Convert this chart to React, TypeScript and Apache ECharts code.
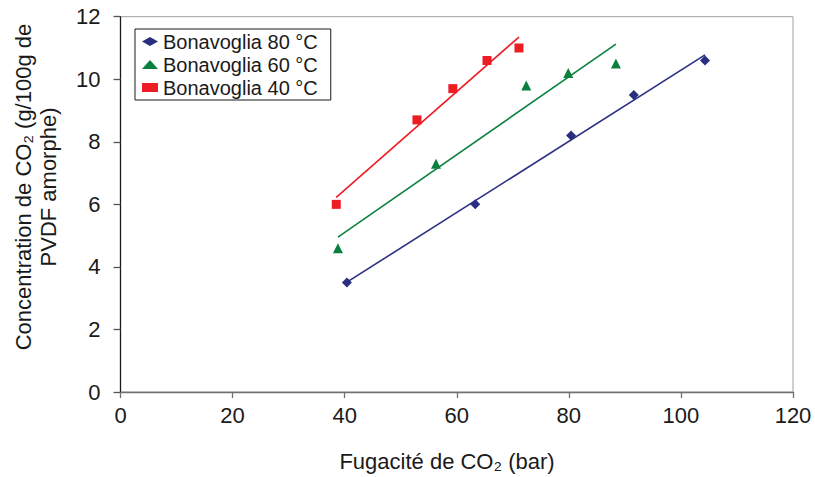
import React, { useEffect, useRef } from "react";
import * as echarts from "echarts";

const seriesNames = ["Bonavoglia 80 °C", "Bonavoglia 60 °C", "Bonavoglia 40 °C"];
const fugacity80 = [40.4, 63.3, 80.4, 91.6, 104.3];
const conc80 = [3.5, 6.0, 8.2, 9.5, 10.6];
const fugacity60 = [38.8, 56.3, 72.4, 79.9, 88.4];
const conc60 = [4.6, 7.3, 9.8, 10.2, 10.5];
const fugacity40 = [38.5, 52.9, 59.3, 65.4, 71.1];
const conc40 = [6.0, 8.7, 9.7, 10.6, 11.0];

const xAxisTitle = "Fugacité de CO₂ (bar)";
const yAxisTitle = "Concentration de CO₂ (g/100g de\nPVDF amorphe)";

const FONT = "'Liberation Sans', Arial, sans-serif";

function linearFit(xs: number[], ys: number[]): number[][] {
  const n = xs.length;
  const mx = xs.reduce((a, b) => a + b, 0) / n;
  const my = ys.reduce((a, b) => a + b, 0) / n;
  let sxy = 0;
  let sxx = 0;
  for (let i = 0; i < n; i++) {
    sxy += (xs[i] - mx) * (ys[i] - my);
    sxx += (xs[i] - mx) * (xs[i] - mx);
  }
  const b = sxy / sxx;
  const a = my - b * mx;
  const x0 = Math.min(...xs);
  const x1 = Math.max(...xs);
  return [
    [x0, a + b * x0],
    [x1, a + b * x1],
  ];
}

const zip = (xs: number[], ys: number[]) => xs.map((x, i) => [x, ys[i]]);

export default function App() {
  const ref = useRef<HTMLDivElement>(null);
  useEffect(() => {
    if (!ref.current) return;
    const chart = echarts.init(ref.current, null, { renderer: "svg" });
    const groups = [
      { name: seriesNames[0], xs: fugacity80, ys: conc80, color: "#2b2f83", mark: "#2a2e80", symbol: "diamond", size: 10 },
      { name: seriesNames[1], xs: fugacity60, ys: conc60, color: "#0b8140", mark: "#0b7f3e", symbol: "triangle", size: 10 },
      { name: seriesNames[2], xs: fugacity40, ys: conc40, color: "#ee1d23", mark: "#ee1d23", symbol: "rect", size: 9 },
    ];
    const series: any[] = [];
    groups.forEach((g) => {
      series.push({
        type: "line",
        name: g.name + " (tendance)",
        data: linearFit(g.xs, g.ys),
        showSymbol: false,
        symbol: "none",
        lineStyle: { color: g.color, width: 1.6 },
        silent: true,
        z: 2,
      });
    });
    groups.forEach((g) => {
      series.push({
        type: "scatter",
        name: g.name,
        data: zip(g.xs, g.ys),
        symbol: g.symbol,
        symbolSize: g.size,
        itemStyle: { color: g.mark, opacity: 1 },
        z: 3,
      });
    });
    chart.setOption({
      animation: false,
      backgroundColor: "#ffffff",
      textStyle: { fontFamily: FONT },
      grid: {
        left: 120.5,
        right: 22,
        top: 16.7,
        bottom: 85,
        show: true,
        borderColor: "#a0a0a0",
        borderWidth: 1,
        backgroundColor: "transparent",
      },
      legend: {
        data: seriesNames,
        orient: "vertical",
        left: 135,
        top: 29,
        itemWidth: 16,
        itemHeight: 9,
        itemGap: 0,
        padding: [1, 13, 1, 7],
        borderColor: "#1a1a1a",
        borderWidth: 1,
        backgroundColor: "#ffffff",
        selectedMode: false,
        itemStyle: { opacity: 1 },
        textStyle: { fontFamily: FONT, fontSize: 20, color: "#1a1a1a", lineHeight: 23 },
      },
      xAxis: {
        type: "value",
        min: 0,
        max: 120,
        interval: 20,
        splitLine: { show: false },
        axisLine: { show: true, onZero: false, lineStyle: { color: "#707070", width: 1.3 } },
        axisTick: { show: true, inside: false, length: 6, lineStyle: { color: "#707070", width: 1.3 } },
        axisLabel: { fontFamily: FONT, fontSize: 22, color: "#1a1a1a", margin: 12 },
      },
      yAxis: {
        type: "value",
        min: 0,
        max: 12,
        interval: 2,
        splitLine: { show: false },
        axisLine: { show: true, onZero: false, lineStyle: { color: "#1a1a1a", width: 1.3 } },
        axisTick: { show: true, inside: false, length: 7, lineStyle: { color: "#555555", width: 1.3 } },
        axisLabel: { fontFamily: FONT, fontSize: 22, color: "#1a1a1a", margin: 20 },
      },
      graphic: [
        {
          type: "text",
          x: 447,
          y: 461,
          style: {
            text: xAxisTitle,
            font: `22px ${FONT}`,
            fill: "#1a1a1a",
            align: "center",
            verticalAlign: "middle",
          },
        },
        {
          type: "text",
          x: 36,
          y: 187,
          rotation: Math.PI / 2,
          style: {
            text: yAxisTitle,
            font: `22px ${FONT}`,
            fill: "#1a1a1a",
            align: "center",
            verticalAlign: "middle",
            lineHeight: 25,
          },
        },
      ],
      series,
    });
    return () => chart.dispose();
  }, []);
  return (
    <div
      ref={ref}
      style={{ position: "fixed", left: 0, top: 0, width: 815, height: 477, background: "#fff" }}
    />
  );
}
